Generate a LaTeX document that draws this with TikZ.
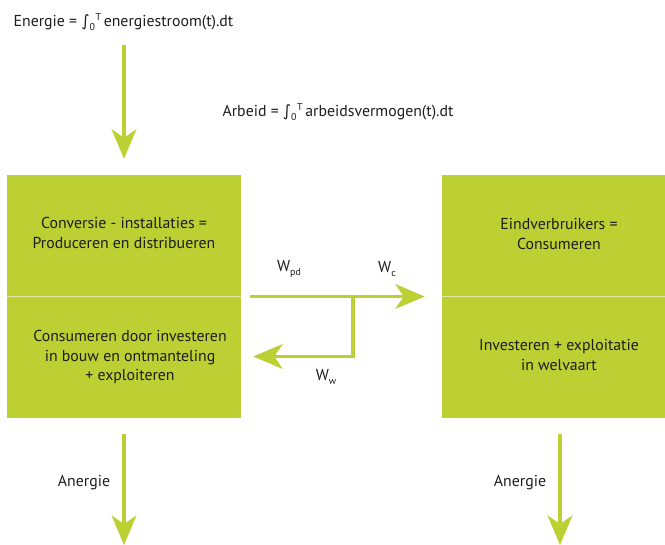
\documentclass[tikz,border=0pt]{standalone}
\usepackage{fontspec}
\setmainfont{PT Sans}
\newfontfamily\intfont{DejaVu Sans}
\usepackage{xcolor}
\usetikzlibrary{arrows.meta, positioning, calc}

\definecolor{lime}{RGB}{188,207,51}
\definecolor{ink}{RGB}{30,28,28}
\newcommand{\lowsub}[1]{\raisebox{-4pt}{\fontsize{8.5}{9}\selectfont #1}}
\newcommand{\tint}{{\intfont ∫}\lowsub{0}\kern0.5pt\raisebox{5pt}{\fontsize{8.5}{9}\selectfont T}\,}

\begin{document}
\begin{tikzpicture}[
    x=0.03cm, y=-0.03cm,
    block/.style={rectangle, fill=lime, inner sep=0pt, minimum height=7.29cm},
    caption/.style={align=center, text=ink, font=\fontsize{13.5}{17}\selectfont, inner sep=1pt},
    divider/.style={draw=white!55!lime, line width=1.5pt},
    flow/.style={draw=lime, line width=3.4pt, -{Stealth[length=25pt, width=21pt, inset=7pt]}}
]
    \useasboundingbox (0,0) rectangle (665,545);

    % Energy and work
    \node[caption] (energy) at (123.5,22) {Energie = \tint energiestroom(t).dt};
    \node[caption] (work) at (338,112) {Arbeid = \tint arbeidsvermogen(t).dt};

    % Conversion block
    \node[block, minimum width=7.02cm] (conv) at (124,296.5) {};
    \draw[divider] (conv.west) -- (conv.east);
    \node[caption] (convtop) at (124,233) {Conversie - installaties =\\Produceren en distribueren};
    \node[caption] (convbot) at (130,357) {Consumeren door investeren\\in bouw en ontmanteling\\+ exploiteren};

    % Consumer block
    \node[block, minimum width=6.69cm] (cons) at (553.5,296.5) {};
    \draw[divider] (cons.west) -- (cons.east);
    \node[caption] (constop) at (559,234) {Eindverbruikers =\\Consumeren};
    \node[caption] (consbot) at (559,355) {Investeren + exploitatie\\in welvaart};

    % Flows
    \draw[flow, shorten <=11pt] (energy.south -| conv.north) -- ($(conv.north)+(0,-16)$);
    \draw[flow] ($(conv.east)+(9,0)$) -- ($(cons.west)+(-17,0)$);
    \coordinate (split) at (353,296.5);
    \draw[flow] (split) |- ($(conv.east)+(12,60)$);

    \node[caption] (wpd) at (289,269) {W\lowsub{pd}};
    \node[caption] (wc) at (387,269) {W\lowsub{c}};
    \node[caption] (ww) at (326,377) {W\lowsub{w}};

    % Anergy
    \coordinate (loss1) at (124,545);
    \coordinate (loss2) at (560,545);
    \draw[flow] ($(conv.south)+(0,16)$) -- (loss1);
    \draw[flow] ($(cons.south)+(6.5,16)$) -- (loss2);
    \node[caption] (anergy1) at (84,483) {Anergie};
    \node[caption] (anergy2) at (520,483) {Anergie};

\end{tikzpicture}
\end{document}
